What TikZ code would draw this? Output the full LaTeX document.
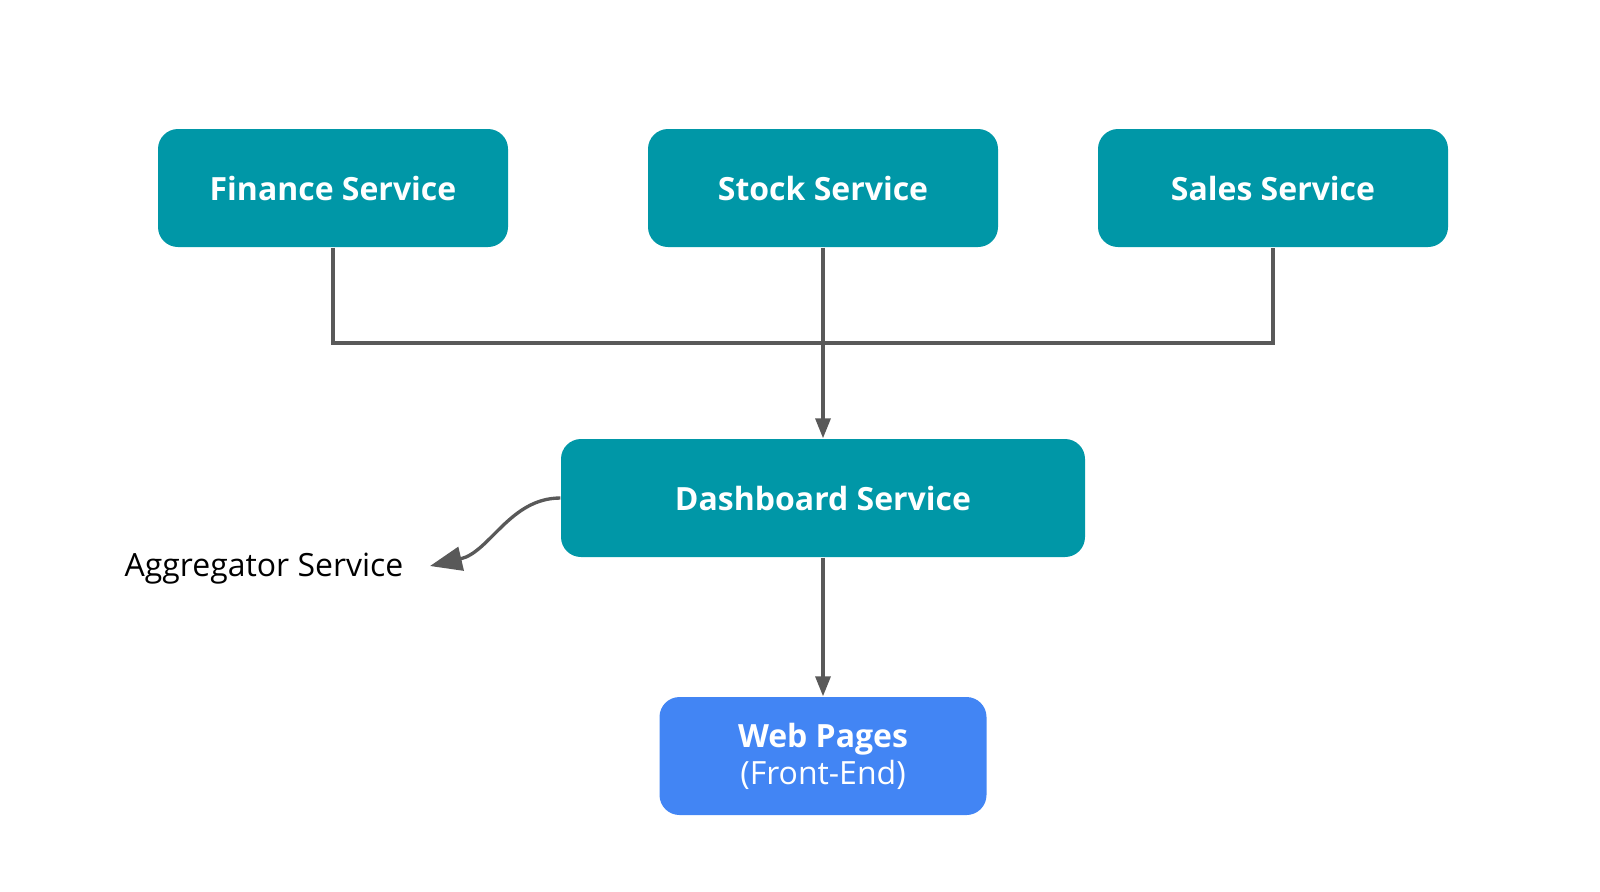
\documentclass[tikz,border=0pt]{standalone}
\usepackage{fontspec}
\setmainfont{Open Sans}
\usepackage{xcolor}
\usepackage{tikz}
\usetikzlibrary{arrows.meta}

\definecolor{svcteal}{HTML}{0097A7}
\definecolor{webblue}{HTML}{4285F4}
\definecolor{linegray}{HTML}{595959}

\begin{document}
\begin{tikzpicture}[
		service/.style={
				rectangle, rounded corners=0.2cm, fill=svcteal, draw=none,
				text=white, font=\fontsize{9.1pt}{11pt}\selectfont\bfseries,
				minimum width=3.5cm, minimum height=1.18cm, inner sep=0pt
			},
		link/.style={draw=linegray, line width=0.95pt},
		flow/.style={link, -{Triangle[length=0.2cm,width=0.15cm]}}
	]
		\useasboundingbox (0,0) rectangle (16,-8.91);

		\node[service] (FS) at (3.33,-1.88) {Finance Service};
		\node[service] (SS) at (8.23,-1.88) {Stock Service};
		\node[service] (LS) at (12.73,-1.88) {Sales Service};

		\node[service, minimum width=5.24cm] (DS) at (8.23,-4.98) {Dashboard Service};

		\node[
			service, fill=webblue, minimum width=3.27cm, align=center,
			font=\fontsize{9.1pt}{10.6pt}\selectfont, text depth=0.05cm
		] (WP) at (8.23,-7.56) {\textbf{Web Pages}\\(Front-End)};

		\node[font=\fontsize{9.1pt}{11pt}\selectfont, inner sep=0pt] (AG) at (2.64,-5.69) {Aggregator Service};
		\coordinate (AGtip) at (4.30,-5.66);

		\draw[link] (FS.south) |- (8.23,-3.43) -| (LS.south);
		\draw[flow] (SS.south) -- (DS.north);
		\draw[flow] (DS.south) -- (WP.north);
		\draw[link, -{Triangle[length=0.32cm,width=0.24cm]}]
			(DS.west) .. controls (5.10,-4.98) and (4.90,-5.52) .. (AGtip);
	\end{tikzpicture}
\end{document}
